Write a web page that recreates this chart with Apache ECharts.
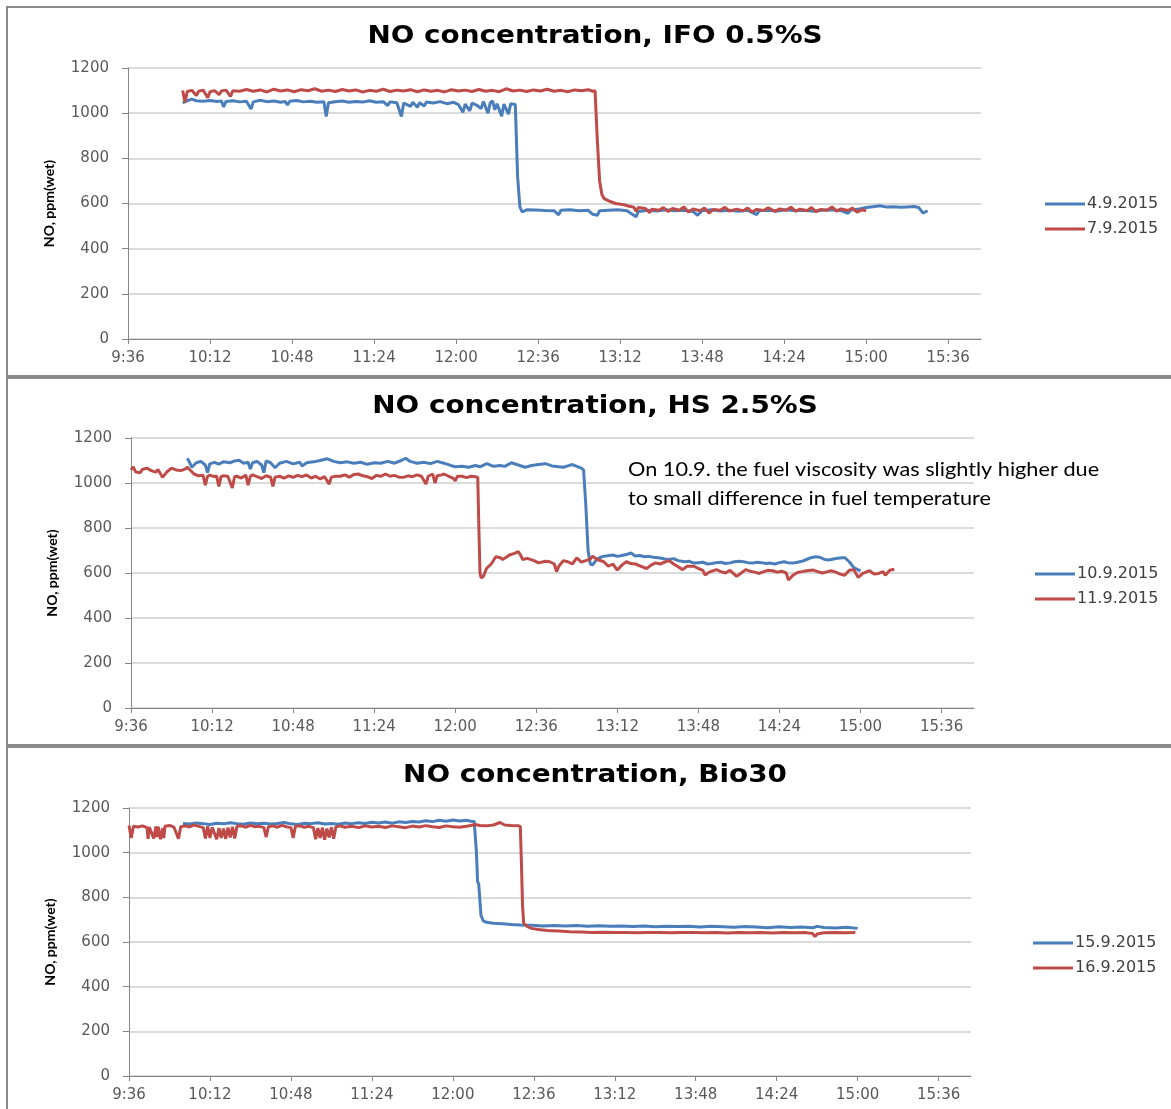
<!DOCTYPE html>
<html>
<head>
<meta charset="utf-8">
<script src="https://cdn.jsdelivr.net/npm/echarts@6/dist/echarts.min.js"></script>
<style>
  html, body { margin: 0; padding: 0; background: #fff; }
  #chart { width: 1171px; height: 1109px; }
</style>
</head>
<body>
<div id="chart"></div>
<script>
// Time values are minutes after midnight; NO concentration in ppm (wet).

const panelTitles = [
  'NO concentration, IFO 0.5%S',
  'NO concentration, HS 2.5%S',
  'NO concentration, Bio30'
];
const legendNames = [
  ['4.9.2015', '7.9.2015'],
  ['10.9.2015', '11.9.2015'],
  ['15.9.2015', '16.9.2015']
];
const xTickLabels = ['9:36', '10:12', '10:48', '11:24', '12:00', '12:36', '13:12', '13:48', '14:24', '15:00', '15:36'];
const yTicks = [0, 200, 400, 600, 800, 1000, 1200];
const axisName = 'NO, ppm(wet)';
const noteLines = [
  'On 10.9. the fuel viscosity was slightly higher due',
  'to small difference in fuel temperature'
];

// IFO 0.5%S, 4.9.2015
const no0409 = [
  [600,1045],[602,1055],[604,1062],[606,1055],[609,1053],[612,1056],[615,1052],[617,1054],[618,1028],[619,1052],
  [622,1055],[625,1050],[628,1053],[630,1018],[631,1050],[634,1057],[637,1051],[640,1054],[643,1048],[645,1052],
  [646,1036],[647,1053],[650,1056],[653,1050],[656,1053],[659,1048],[662,1051],[663,985],[664,1046],[667,1051],
  [670,1054],[673,1048],[676,1052],[679,1049],[682,1055],[685,1048],[688,1051],[690,1034],[691,1050],[694,1046],
  [696,985],[697,1045],[700,1030],[701,1048],[703,1026],[704,1046],[706,1032],[707,1049],[710,1045],[713,1051],
  [716,1042],[719,1048],[721,1038],[723,1004],[724,1040],[726,1010],[727,1044],[729,1036],[731,1020],[732,1052],
  [734,1000],[735,1046],[736,1055],[737,1015],[738,1042],[740,986],[741,1040],[743,996],[744,1042],[746,1038],
  [747,720],[748,585],[749,563],[751,572],[755,571],[759,569],[763,568],[765,550],[766,570],[770,572],
  [774,568],[778,570],[780,552],[782,548],[783,568],[787,570],[791,572],[795,568],[799,541],[800,565],
  [804,570],[808,567],[812,572],[816,568],[820,570],[824,565],[826,548],[828,568],[832,572],[836,567],
  [840,570],[844,566],[848,570],[852,551],[853,568],[857,570],[861,567],[865,572],[869,568],[873,570],
  [877,566],[881,570],[885,572],[889,568],[892,556],[893,570],[897,576],[900,582],[903,586],[906,590],
  [909,584],[912,586],[915,583],[918,585],[921,587],[923,582],[925,558],[927,568]
];

// IFO 0.5%S, 7.9.2015
const no0709 = [
  [600,1100],[601,1048],[602,1096],[604,1101],[606,1078],[607,1097],[609,1102],[611,1068],[612,1095],[614,1100],
  [616,1082],[617,1098],[619,1102],[621,1074],[622,1099],[625,1097],[628,1105],[631,1097],[634,1103],[637,1094],
  [640,1106],[643,1098],[646,1103],[649,1095],[652,1104],[655,1099],[658,1108],[661,1097],[664,1102],[667,1096],
  [670,1105],[673,1098],[676,1103],[679,1094],[682,1101],[685,1097],[688,1106],[691,1096],[694,1102],[697,1098],
  [700,1104],[703,1095],[706,1103],[709,1097],[712,1101],[715,1094],[718,1104],[721,1098],[724,1102],[727,1096],
  [730,1105],[733,1097],[736,1101],[739,1095],[742,1108],[745,1098],[748,1102],[751,1096],[754,1103],[757,1098],
  [760,1106],[763,1097],[766,1101],[769,1095],[772,1103],[775,1099],[778,1104],[780,1097],[781,1100],[782,880],
  [783,700],[784,640],[785,622],[787,612],[790,600],[793,596],[796,588],[798,584],[799,565],[800,582],
  [803,578],[805,560],[806,575],[809,570],[811,582],[813,565],[815,578],[818,570],[820,585],[822,562],
  [824,576],[827,568],[829,580],[831,558],[833,574],[836,570],[838,583],[840,566],[843,575],[846,568],
  [848,580],[850,562],[852,574],[855,569],[857,581],[860,565],[862,576],[865,570],[867,584],[869,566],
  [871,575],[874,568],[876,582],[878,564],[880,574],[883,570],[885,585],[887,566],[889,576],[892,569],
  [894,580],[896,562],[898,572],[900,568]
];

// HS 2.5%S, 10.9.2015
const no1009 = [
  [601,1110],[602,1092],[603,1070],[605,1090],[607,1096],[609,1080],[610,1046],[611,1085],[613,1092],[615,1084],
  [617,1094],[620,1090],[622,1098],[624,1101],[626,1088],[628,1092],[629,1062],[630,1090],[632,1096],[634,1080],
  [635,1046],[636,1098],[638,1090],[640,1068],[642,1088],[645,1096],[648,1085],[651,1092],[652,1076],[654,1090],
  [657,1094],[660,1100],[663,1108],[666,1096],[669,1090],[672,1094],[675,1088],[678,1092],[681,1083],[684,1090],
  [687,1088],[690,1096],[693,1088],[696,1100],[698,1110],[700,1096],[703,1088],[706,1092],[709,1086],[712,1096],
  [715,1088],[718,1078],[720,1072],[723,1074],[726,1070],[729,1078],[731,1072],[734,1086],[737,1074],[740,1078],
  [742,1074],[745,1090],[748,1080],[751,1070],[754,1078],[757,1082],[760,1086],[763,1076],[766,1072],[768,1070],
  [770,1076],[772,1082],[774,1074],[776,1066],[777,1058],[778,900],[779,700],[780,640],[781,636],[783,662],
  [785,672],[787,676],[790,680],[792,674],[794,678],[796,682],[798,689],[800,676],[802,678],[804,672],
  [806,674],[808,670],[811,667],[813,662],[815,660],[817,664],[819,655],[822,650],[824,652],[826,644],
  [828,646],[830,648],[832,640],[834,642],[836,646],[838,648],[840,642],[842,645],[844,650],[846,652],
  [848,650],[850,646],[852,644],[854,648],[856,646],[858,642],[860,644],[862,640],[864,646],[866,650],
  [868,645],[870,644],[872,648],[874,652],[876,660],[878,668],[880,672],[882,670],[884,660],[886,658],
  [888,662],[890,666],[892,668],[893,668],[895,650],[897,624],[899,614],[900,610]
];

// HS 2.5%S, 11.9.2015
const no1109 = [
  [576,1058],[577,1072],[578,1050],[580,1045],[581,1060],[583,1066],[585,1055],[587,1048],[588,1060],[590,1025],
  [592,1050],[594,1066],[596,1058],[598,1055],[600,1062],[601,1070],[603,1050],[604,1040],[606,1032],[608,1034],
  [609,990],[610,1030],[611,1035],[613,1028],[614,1032],[615,985],[616,1028],[617,1032],[619,1030],[621,978],
  [622,1028],[623,1030],[625,1022],[627,1035],[628,990],[629,1030],[630,1036],[632,1028],[634,1020],[636,1032],
  [638,1026],[639,985],[640,1026],[642,1030],[644,1022],[646,1032],[648,1025],[650,1034],[652,1028],[654,1036],
  [656,1022],[658,1030],[660,1018],[662,1028],[664,995],[665,1026],[667,1030],[669,1030],[671,1036],[673,1026],
  [675,1038],[677,1040],[679,1032],[681,1028],[683,1020],[685,1034],[687,1030],[689,1040],[691,1030],[693,1034],
  [695,1026],[697,1025],[699,1032],[701,1028],[703,1036],[705,1030],[707,995],[708,1030],[710,1040],[711,1000],
  [712,1032],[714,1036],[715,1040],[717,1030],[719,1022],[720,1010],[721,1030],[723,1030],[725,1024],[727,1030],
  [729,1028],[730,1025],[730.5,800],[731,600],[731.5,578],[732.5,585],[734,622],[736,640],[738,672],[740,668],
  [741,660],[743,672],[744,680],[746,686],[748,695],[749,680],[750,660],[752,665],[755,655],[757,645],
  [760,652],[762,650],[764,640],[765,606],[766,630],[768,655],[770,650],[772,640],[774,667],[776,648],
  [778,655],[780,662],[781,675],[783,660],[786,650],[788,630],[790,640],[792,613],[794,635],[796,650],
  [798,642],[800,640],[802,632],[805,620],[807,635],[809,645],[811,640],[813,648],[815,655],[817,640],
  [819,628],[821,615],[823,630],[826,630],[828,620],[830,612],[831,591],[833,605],[836,615],[838,606],
  [840,600],[842,612],[845,585],[847,600],[849,615],[851,608],[853,604],[855,598],[857,606],[859,612],
  [861,610],[863,604],[865,608],[867,600],[868,569],[870,590],[872,602],[874,606],[876,610],[879,613],
  [881,606],[883,600],[885,605],[887,610],[889,604],[891,595],[893,590],[895,612],[897,615],[899,580],
  [901,598],[903,606],[904,610],[906,596],[908,598],[910,606],[911,590],[913,612],[915,617]
];

// Bio30, 15.9.2015
const no1509 = [
  [600,1131],[603,1128],[606,1133],[609,1130],[612,1126],[615,1132],[618,1129],[621,1134],[624,1130],[627,1127],
  [630,1133],[633,1129],[636,1132],[639,1128],[642,1131],[645,1135],[648,1129],[651,1126],[654,1132],[657,1130],
  [660,1134],[663,1128],[666,1131],[669,1127],[672,1133],[675,1130],[678,1134],[681,1131],[684,1136],[687,1133],
  [690,1137],[693,1132],[696,1138],[699,1135],[702,1140],[705,1137],[708,1143],[711,1139],[714,1145],[717,1141],
  [720,1146],[723,1142],[726,1145],[728,1141],[729.5,1140],[730.5,1000],[731,870],[731.5,860],[732.5,720],[733.5,695],
  [735,688],[738,684],[742,682],[746,678],[750,676],[755,675],[760,672],[765,674],[770,672],[775,674],
  [780,670],[785,673],[790,671],[795,672],[800,669],[805,672],[810,668],[815,671],[820,669],[825,670],
  [830,667],[835,670],[840,668],[845,666],[850,669],[855,667],[860,664],[865,668],[870,665],[875,667],
  [880,664],[882,670],[885,665],[890,663],[895,666],[900,661]
];

// Bio30, 16.9.2015
const no1609 = [
  [576,1122],[577,1066],[578,1118],[580,1115],[582,1120],[584,1112],[584.5,1062],[585,1115],[587,1064],[588,1118],
  [588.5,1070],[589,1116],[590,1060],[591,1110],[591.5,1065],[592,1118],[594,1122],[596,1114],[598,1062],[599,1116],
  [601,1120],[603,1115],[605,1124],[607,1118],[609,1112],[610,1064],[611,1118],[612,1066],[613,1114],[615,1060],
  [616,1110],[617,1066],[618,1108],[619,1062],[620,1112],[621,1068],[622,1116],[623,1064],[624,1118],[626,1120],
  [628,1114],[630,1122],[632,1116],[634,1118],[636,1112],[637,1070],[638,1116],[640,1120],[642,1114],[644,1122],
  [646,1116],[648,1112],[649,1066],[650,1118],[652,1120],[654,1114],[656,1118],[658,1112],[659,1060],[660,1110],
  [661,1066],[662,1112],[663,1058],[664,1108],[665,1068],[666,1114],[667,1062],[668,1116],[670,1120],[672,1114],
  [675,1118],[678,1112],[681,1120],[684,1115],[687,1118],[690,1113],[693,1120],[696,1116],[699,1112],[702,1119],
  [705,1115],[708,1121],[711,1116],[714,1113],[717,1120],[720,1116],[723,1114],[726,1118],[728,1122],[730,1126],
  [732,1122],[735,1120],[738,1124],[741,1135],[743,1124],[746,1122],[749,1121],[750,1118],[750.5,950],[751,760],
  [751.5,684],[753,670],[755,661],[758,656],[762,652],[767,649],[772,646],[777,645],[782,643],[787,644],
  [792,642],[797,643],[802,641],[807,643],[812,642],[817,641],[822,643],[827,642],[832,641],[837,643],
  [842,640],[847,642],[852,641],[857,643],[862,640],[867,642],[872,641],[877,642],[880,638],[881,624],
  [882,636],[885,641],[890,643],[895,641],[899,642]
];

const seriesData = [[no0409, no0709], [no1009, no1109], [no1509, no1609]];

// ---- layout & styling ----
const colors = ['#4a7ebb', '#be4b48'];
const tickFont = 'DejaVu Sans';
const xMin = 576;      // 9:36
const xMax = 950.4;    // 15:50:24
const xStep = 36;

function toMinutes(label) {
  const p = label.split(':');
  return Number(p[0]) * 60 + Number(p[1]);
}
function toLabel(m) {
  const h = Math.floor(m / 60);
  const mm = Math.round(m - h * 60);
  return h + ':' + (mm < 10 ? '0' : '') + mm;
}
const xTickValues = xTickLabels.map(toMinutes);

const panels = [
  { box: [7, 7, 1200, 369],   grid: { left: 128, top: 68,  width: 853, height: 271 }, titleY: 37,  legend: { left: 1040, top: 191 } },
  { box: [7, 378, 1200, 367], grid: { left: 131, top: 438, width: 843, height: 270 }, titleY: 407, legend: { left: 1030, top: 561 } },
  { box: [7, 747, 1200, 380], grid: { left: 129, top: 808, width: 842, height: 268 }, titleY: 776, legend: { left: 1028, top: 930 } }
];

const option = {
  animation: false,
  backgroundColor: '#ffffff',
  legend: panels.map((p, i) => ({
    data: legendNames[i],
    orient: 'vertical',
    left: p.legend.left,
    top: p.legend.top,
    icon: 'rect',
    itemWidth: 40,
    itemHeight: 3,
    itemGap: 9,
    textStyle: { fontFamily: tickFont, fontSize: 16, color: '#404040', padding: [0, 0, 0, -3] }
  })),
  grid: panels.map(p => Object.assign({ containLabel: false }, p.grid)),
  xAxis: panels.map((p, i) => ({
    type: 'value',
    gridIndex: i,
    min: xMin,
    max: xMax,
    interval: xStep,
    axisLine: { show: true, lineStyle: { color: '#868686', width: 1 } },
    axisTick: { show: true, length: 5, customValues: xTickValues, lineStyle: { color: '#868686' } },
    axisLabel: {
      customValues: xTickValues,
      formatter: v => toLabel(v),
      margin: 12,
      fontFamily: tickFont,
      fontSize: 15,
      color: '#595959'
    },
    splitLine: { show: false }
  })),
  yAxis: panels.map((p, i) => ({
    type: 'value',
    gridIndex: i,
    min: yTicks[0],
    max: yTicks[yTicks.length - 1],
    interval: yTicks[1] - yTicks[0],
    name: axisName,
    nameLocation: 'middle',
    nameGap: 72,
    nameTextStyle: { fontFamily: 'Lato', fontWeight: 'bold', fontSize: 14, color: '#000' },
    axisLine: { show: true, lineStyle: { color: '#868686', width: 1 } },
    axisTick: { show: true, length: 6, lineStyle: { color: '#868686' } },
    axisLabel: { margin: 19, fontFamily: tickFont, fontSize: 15, color: '#595959', formatter: v => String(v) },
    splitLine: { show: true, lineStyle: { color: '#cfcfcf', width: 1.5 } }
  })),
  series: [],
  graphic: []
};

seriesData.forEach((pair, i) => {
  pair.forEach((data, k) => {
    option.series.push({
      type: 'line',
      name: legendNames[i][k],
      xAxisIndex: i,
      yAxisIndex: i,
      data: data,
      symbol: 'none',
      showSymbol: false,
      color: colors[k],
      lineStyle: { width: 3, color: colors[k] }
    });
  });
});

panels.forEach((p, i) => {
  option.graphic.push({
    type: 'rect',
    silent: true,
    shape: { x: p.box[0], y: p.box[1], width: p.box[2], height: p.box[3] },
    style: { fill: 'none', stroke: '#8a8a8a', lineWidth: 2 }
  });
  // panel title, slightly widened lettering
  option.graphic.push({
    type: 'text',
    silent: true,
    x: 595,
    y: p.titleY,
    scaleX: 1.16,
    style: {
      text: panelTitles[i],
      font: 'bold 24px "DejaVu Sans"',
      align: 'center',
      verticalAlign: 'middle',
      fill: '#000'
    }
  });
});

option.graphic.push({
  type: 'text',
  silent: true,
  x: 628,
  y: 455,
  scaleX: 1.085,
  style: {
    text: noteLines.join('\n'),
    font: '20px Lato',
    lineHeight: 29,
    align: 'left',
    verticalAlign: 'top',
    fill: '#000'
  }
});

const chart = echarts.init(document.getElementById('chart'), null, { renderer: 'canvas' });
chart.setOption(option);
</script>
</body>
</html>
